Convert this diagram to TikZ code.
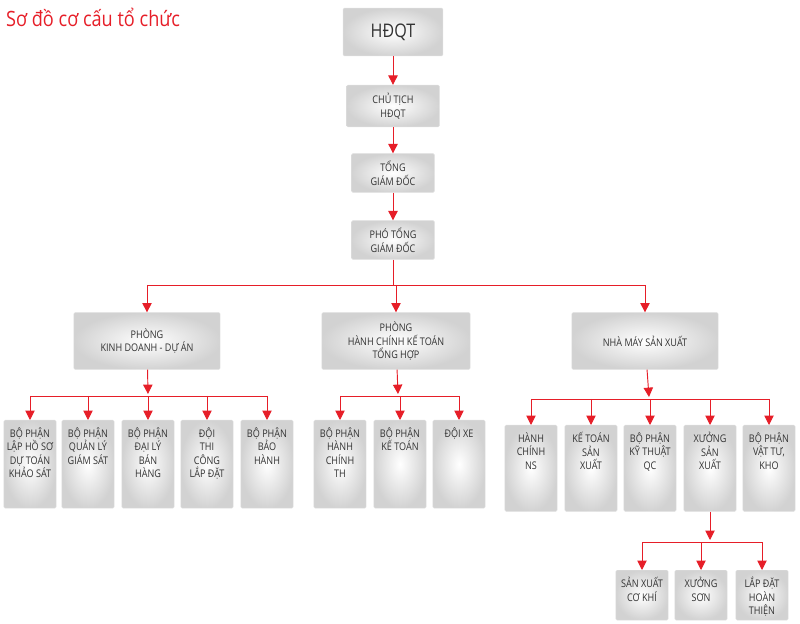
\documentclass[tikz,border=0pt]{standalone}
\usepackage{fontspec}
\setmainfont{Open Sans}[FakeStretch=0.86]
\usetikzlibrary{arrows.meta,positioning}
\definecolor{tred}{RGB}{230,30,40}
\tikzset{
    box/.style={draw=gray!25,rounded corners=1pt,inner color=white,outer color=gray!35,text=black!80,
        font=\fontsize{9}{11.5}\selectfont,align=center,inner sep=1pt},
    link/.style={-{Triangle[length=8pt,width=8pt]},tred,thick},
    bus/.style={tred,thick}
}
\newcommand{\cell}[3]{\parbox[t][#2][t]{#1}{\centering\vspace{5pt}#3}}
\begin{document}
\begin{tikzpicture}[x=0.03cm,y=-0.03cm]
    \useasboundingbox (0,0) rectangle (800,624);
    \node[tred,font=\fontsize{18}{20}\selectfont,anchor=west] (title) at (2,17) {Sơ đồ cơ cấu tổ chức};

    \node[box,minimum width=100*0.85pt,minimum height=48*0.85pt,font=\fontsize{16}{18}\selectfont] (hdqt) at (393,32) {HĐQT};
    \node[box,minimum width=93*0.85pt,minimum height=42*0.85pt] (ct) at (393,106) {CHỦ TỊCH\\HĐQT};
    \node[box,minimum width=83*0.85pt,minimum height=39*0.85pt] (tgd) at (393,173) {TỔNG\\GIÁM ĐỐC};
    \node[box,minimum width=83*0.85pt,minimum height=39*0.85pt] (ptgd) at (393,240) {PHÓ TỔNG\\GIÁM ĐỐC};
    \draw[link] (hdqt) -- (ct);
    \draw[link] (ct) -- (tgd);
    \draw[link] (tgd) -- (ptgd);

    \node[box,minimum width=147*0.85pt,minimum height=57*0.85pt] (kd) at (147,341) {PHÒNG\\KINH DOANH - DỰ ÁN};
    \node[box,minimum width=149*0.85pt,minimum height=57*0.85pt] (hc) at (396,341) {PHÒNG\\HÀNH CHÍNH KẾ TOÁN\\TỔNG HỢP};
    \node[box,minimum width=147*0.85pt,minimum height=57*0.85pt] (nm) at (645,341) {NHÀ MÁY SẢN XUẤT};
    \coordinate (b0) at (393,285);
    \draw[bus] (ptgd) -- (b0);
    \draw[bus] (b0) -| (147,285) coordinate (b1);
    \draw[bus] (b0) -| (645,285) coordinate (b3);
    \draw[link] (b1) -- (kd);
    \draw[link] (b0 -| hc) -- (hc);
    \draw[link] (b3) -- (nm);

    % phong kinh doanh
    \foreach \n/\x/\t in {k1/30/{BỘ PHẬN\\LẬP HỒ SƠ\\DỰ TOÁN\\KHẢO SÁT}, k2/88/{BỘ PHẬN\\QUẢN LÝ\\GIÁM SÁT},
        k3/148/{BỘ PHẬN\\ĐẠI LÝ\\BÁN\\HÀNG}, k4/207/{ĐỘI\\THI\\CÔNG\\LẮP ĐẶT}, k5/267/{BỘ PHẬN\\BẢO\\HÀNH}}{
        \node[box,anchor=north] (\n) at (\x,420) {\cell{42.5pt}{73pt}{\t}};
        \draw[link] (\x,396) -- (\n);
    }
    \draw[bus] (30,396) -- (267,396);
    \draw[link] (kd) -- (148,394);

    % phong hanh chinh
    \foreach \n/\x/\t in {h1/340/{BỘ PHẬN\\HÀNH\\CHÍNH\\TH}, h2/400/{BỘ PHẬN\\KẾ TOÁN}, h3/459/{ĐỘI XE}}{
        \node[box,anchor=north] (\n) at (\x,420) {\cell{42.5pt}{73pt}{\t}};
        \draw[link] (\x,396) -- (\n);
    }
    \draw[bus] (340,396) -- (459,396);
    \draw[link] (hc) -- (398,394);

    % nha may
    \foreach \n/\x/\t in {n1/531/{HÀNH\\CHÍNH\\NS}, n2/591/{KẾ TOÁN\\SẢN\\XUẤT}, n3/650/{BỘ PHẬN\\KỸ THUẬT\\QC},
        n4/710/{XƯỞNG\\SẢN\\XUẤT}, n5/769/{BỘ PHẬN\\VẬT TƯ,\\KHO}}{
        \node[box,anchor=north] (\n) at (\x,425) {\cell{42.5pt}{71.5pt}{\t}};
        \draw[link] (\x,399) -- (\n);
    }
    \draw[bus] (531,399) -- (769,399);
    \draw[link] (nm) -- (649,397);

    % xuong san xuat
    \foreach \n/\x/\t in {x1/642/{SẢN XUẤT\\CƠ KHÍ}, x2/701/{XƯỞNG\\SƠN}, x3/762/{LẮP ĐẶT\\HOÀN\\THIỆN}}{
        \node[box,anchor=north] (\n) at (\x,570) {\cell{42.5pt}{40.5pt}{\t}};
        \draw[link] (\x,542) -- (\n);
    }
    \draw[bus] (642,542) -- (762,542);
    \draw[link] (n4) -- (710,540);
\end{tikzpicture}
\end{document}
